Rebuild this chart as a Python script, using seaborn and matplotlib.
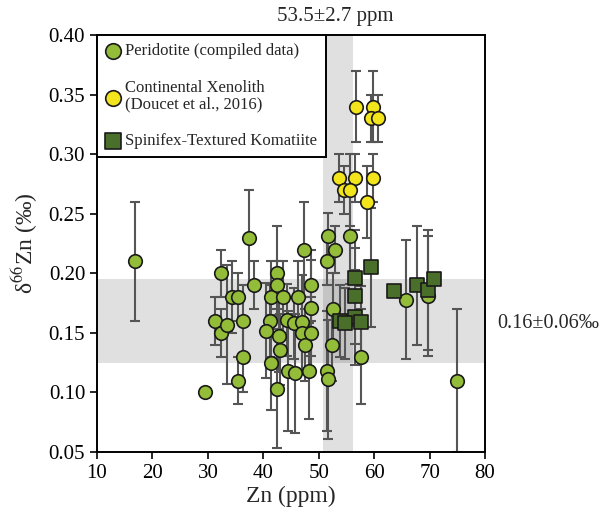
import numpy as np
import pandas as pd
import matplotlib
matplotlib.use("Agg")
import matplotlib.pyplot as plt
import seaborn as sns

# ---- data ----
perid_x = [16.9, 29.4, 31.3, 32.4, 32.3, 33.4, 34.4, 35.5, 35.4, 36.4, 36.4, 37.4, 38.4,
           41.2, 40.4, 41.4, 41.4, 42.4, 42.4, 42.8, 43.0, 42.4, 43.5, 44.2, 45.5, 44.5,
           45.7, 46.3, 46.9, 46.9, 47.5, 47.4, 48.6, 48.6, 48.6, 48.2, 51.7, 51.5, 52.9,
           55.6, 52.6, 52.4, 51.4, 51.6, 57.6, 65.7, 69.7, 75.0]
perid_y = [0.210, 0.100, 0.160, 0.200, 0.150, 0.157, 0.180, 0.180, 0.110, 0.160, 0.130, 0.230, 0.190,
           0.160, 0.152, 0.125, 0.180, 0.200, 0.190, 0.147, 0.136, 0.103, 0.180, 0.161, 0.158, 0.118,
           0.116, 0.180, 0.159, 0.150, 0.140, 0.220, 0.190, 0.171, 0.150, 0.118, 0.231, 0.210, 0.220,
           0.231, 0.170, 0.140, 0.118, 0.111, 0.130, 0.178, 0.181, 0.110]
perid_err = [0.05, 0.0, 0.02, 0.02, 0.02, 0.05, 0.03, 0.02, 0.02, 0.03, 0.03, 0.04, 0.02,
             0.03, 0.04, 0.04, 0.03, 0.04, 0.02, 0.03, 0.03, 0.05, 0.03, 0.03, 0.03, 0.05,
             0.05, 0.03, 0.04, 0.03, 0.03, 0.04, 0.03, 0.04, 0.03, 0.04, 0.02, 0.02, 0.02,
             0.04, 0.03, 0.03, 0.05, 0.05, 0.04, 0.05, 0.05, 0.06]

xeno_x = [56.7, 59.7, 59.4, 60.7, 53.6, 56.6, 59.7, 54.6, 55.6, 58.7]
xeno_y = [0.340, 0.340, 0.330, 0.330, 0.280, 0.280, 0.280, 0.270, 0.270, 0.260]
xeno_err = [0.03, 0.03, 0.02, 0.02, 0.02, 0.02, 0.02, 0.02, 0.03, 0.03]

koma_x = [59.5, 56.5, 56.5, 56.5, 53.8, 54.8, 57.6, 63.6, 67.7, 69.7, 70.8]
koma_y = [0.205, 0.196, 0.181, 0.163, 0.160, 0.158, 0.159, 0.185, 0.190, 0.186, 0.195]
koma_err = [0.05, 0.04, 0.04, 0.04, 0.03, 0.03, 0.03, 0.0, 0.05, 0.05, 0.0]

labels = ["Peridotite (compiled data)", "Continental Xenolith\n(Doucet et al., 2016)",
          "Spinifex-Textured Komatiite"]
x_ticks = [10, 20, 30, 40, 50, 60, 70, 80]
y_ticks = [0.05, 0.10, 0.15, 0.20, 0.25, 0.30, 0.35, 0.40]
zn_band = (53.5, 2.7)
d_band = (0.16, 0.035)

sns.set_style("ticks")
plt.rcParams['font.family'] = ['Liberation Serif', 'DejaVu Serif']
plt.rcParams['mathtext.fontset'] = 'stix'

fig = plt.figure(figsize=(6.16, 5.16), dpi=100)
ax = fig.add_axes([0.1575, 0.124, 0.63, 0.808])

ax.axvspan(zn_band[0] - zn_band[1], zn_band[0] + zn_band[1], color='black', alpha=0.12, lw=0, zorder=0)
ax.axhspan(d_band[0] - d_band[1], d_band[0] + d_band[1], color='black', alpha=0.12, lw=0, zorder=0)

ecol = '#555555'
for xs, ys, es in [(perid_x, perid_y, perid_err), (xeno_x, xeno_y, xeno_err), (koma_x, koma_y, koma_err)]:
    ax.errorbar(xs, ys, yerr=es, fmt='none', ecolor=ecol, elinewidth=1.5,
                capsize=3.5, capthick=1.5, zorder=2)

df_p = pd.DataFrame({"x": perid_x, "y": perid_y})
df_x = pd.DataFrame({"x": xeno_x, "y": xeno_y})
df_k = pd.DataFrame({"x": koma_x, "y": koma_y})
sns.scatterplot(data=df_p, x="x", y="y", ax=ax, color='#93bd38', marker='o', s=95,
                edgecolor='#1a1a1a', linewidth=1.2, zorder=3, label=labels[0])
sns.scatterplot(data=df_x, x="x", y="y", ax=ax, color='#f3e51c', marker='o', s=95,
                edgecolor='#1a1a1a', linewidth=1.2, zorder=3, label=labels[1])
sns.scatterplot(data=df_k, x="x", y="y", ax=ax, color='#4a6f2a', marker='s', s=105,
                edgecolor='#1a1a1a', linewidth=1.2, zorder=4, label=labels[2])

ax.set_xlim(10, 80)
ax.set_ylim(0.05, 0.40)
ax.set_xticks(x_ticks)
ax.set_yticks(y_ticks)
ax.set_yticklabels([f"{v:.2f}" for v in y_ticks])
ax.tick_params(direction='out', length=5, width=1.2, labelsize=15, colors='black')
for sp in ax.spines.values():
    sp.set_linewidth(1.4)
    sp.set_color('black')
    sp.set_visible(True)

ax.set_xlabel("Zn (ppm)", fontsize=17, labelpad=2)
ax.set_ylabel(r"δ$^{66}$Zn (‰)", fontsize=17, labelpad=6)

leg = ax.legend(loc='upper left', bbox_to_anchor=(0, 1), borderaxespad=0, fontsize=12,
                frameon=True, fancybox=False, edgecolor='black', framealpha=1,
                handletextpad=0.3, handlelength=0.9, borderpad=0.5, labelspacing=1.25,
                markerscale=1.15)
leg.get_frame().set_linewidth(1.4)
for t in leg.get_texts():
    t.set_linespacing(1.0)
leg.set_zorder(10)

fig.text(0.545, 0.968, "53.5±2.7 ppm", ha='center', va='center', fontsize=15)
fig.text(0.808, 0.374, "0.16±0.06‰", ha='left', va='center', fontsize=14.5)

fig.savefig("out.png", dpi=100)
